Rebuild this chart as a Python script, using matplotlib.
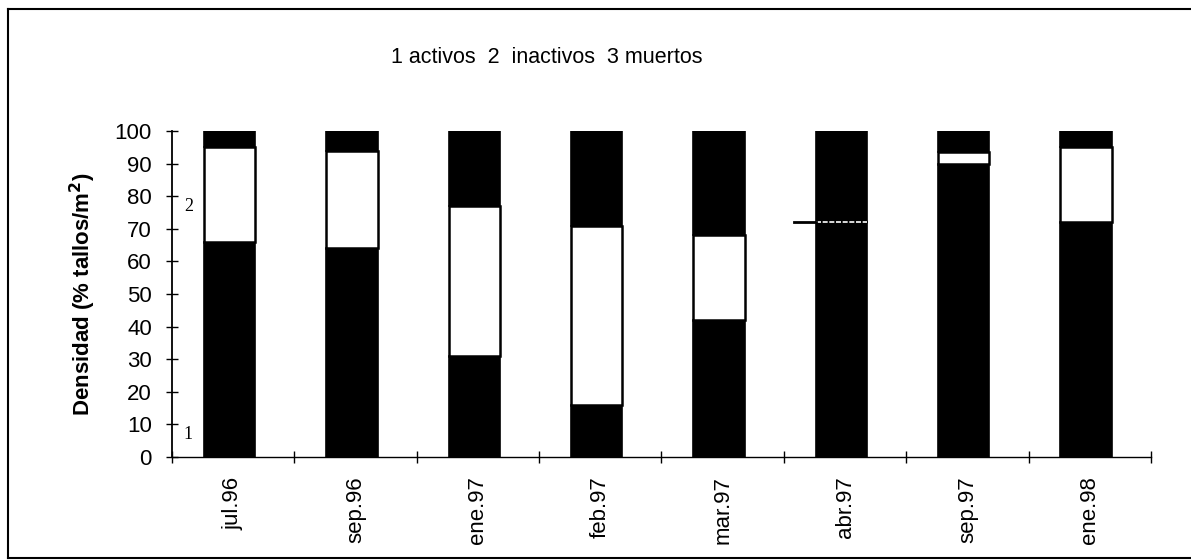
import numpy as np
import matplotlib
matplotlib.use("Agg")
from matplotlib import pyplot as plt
from matplotlib.lines import Line2D

# data (% of stems per m2)
fechas = ["jul.96", "sep.96", "ene.97", "feb.97", "mar.97", "abr.97", "sep.97", "ene.98"]
activos = np.array([66, 64, 31, 16, 42, 72, 90, 72])
inactivos = np.array([29, 30, 46, 55, 26, 0, 3.5, 23])
muertos = np.array([5, 6, 23, 29, 32, 28, 6.5, 5])

plt.rcParams["font.family"] = ["Liberation Sans", "DejaVu Sans"]

fig = plt.figure(figsize=(11.91, 5.6), dpi=100)
ax = fig.add_axes([0.1444, 0.184, 0.822, 0.582])

x = np.arange(len(fechas)) - 0.03
w = 0.42
ax.bar(x, activos, w, color="black", edgecolor="black", linewidth=1.2)
ax.bar(x, inactivos, w, bottom=activos, color="white", edgecolor="black", linewidth=1.8)
ax.bar(x, muertos, w, bottom=activos + inactivos, color="black", edgecolor="black", linewidth=1.2)

# where there are no inactive stems the scan shows a dashed white line + a small pointer
for xi, a, ina in zip(x, activos, inactivos):
    if ina == 0:
        ax.plot([xi - w / 2, xi + w / 2], [a, a], color="white", lw=1.2, ls=(0, (3, 1)), zorder=3)
        ax.plot([xi - w / 2 - 0.18, xi - w / 2], [a, a], color="black", lw=2.0, zorder=3)

ax.set_xlim(-0.5, len(fechas) - 0.5)
ax.set_ylim(0, 100)
ax.set_yticks(np.arange(0, 101, 10))
ax.tick_params(axis="y", direction="inout", length=9, width=1, labelsize=16, pad=10)
ax.set_xticks(np.arange(len(fechas)))
ax.set_xticklabels(fechas, rotation=90, fontsize=16)
ax.tick_params(axis="x", length=0, pad=14)
ax.set_xticks(np.arange(len(fechas) + 1) - 0.5, minor=True)
ax.tick_params(axis="x", which="minor", direction="inout", length=8, width=1)

for s in ["top", "right"]:
    ax.spines[s].set_visible(False)
ax.spines["left"].set_linewidth(1.3)
ax.spines["bottom"].set_linewidth(1.0)

ax.set_ylabel("Densidad (% tallos/m$^\\mathbf{2}$)", fontsize=16, fontweight="bold", labelpad=12)

ax.text(-0.36, 77, "2", family="Liberation Serif", fontsize=13, ha="center", va="center")
ax.text(-0.37, 7, "1", family="Liberation Serif", fontsize=13, ha="center", va="center")

fig.text(0.459, 0.898, "1 activos  2  inactivos  3 muertos", fontsize=15.5, ha="center", va="center")

# scanned page frame
for xs, ys in [([0.007, 0.007], [0.003, 0.984]), ([0.007, 1.0], [0.984, 0.984]), ([0.007, 1.0], [0.004, 0.004])]:
    fig.add_artist(Line2D(xs, ys, color="black", lw=1.5, transform=fig.transFigure))

fig.savefig("out.png", dpi=100)
